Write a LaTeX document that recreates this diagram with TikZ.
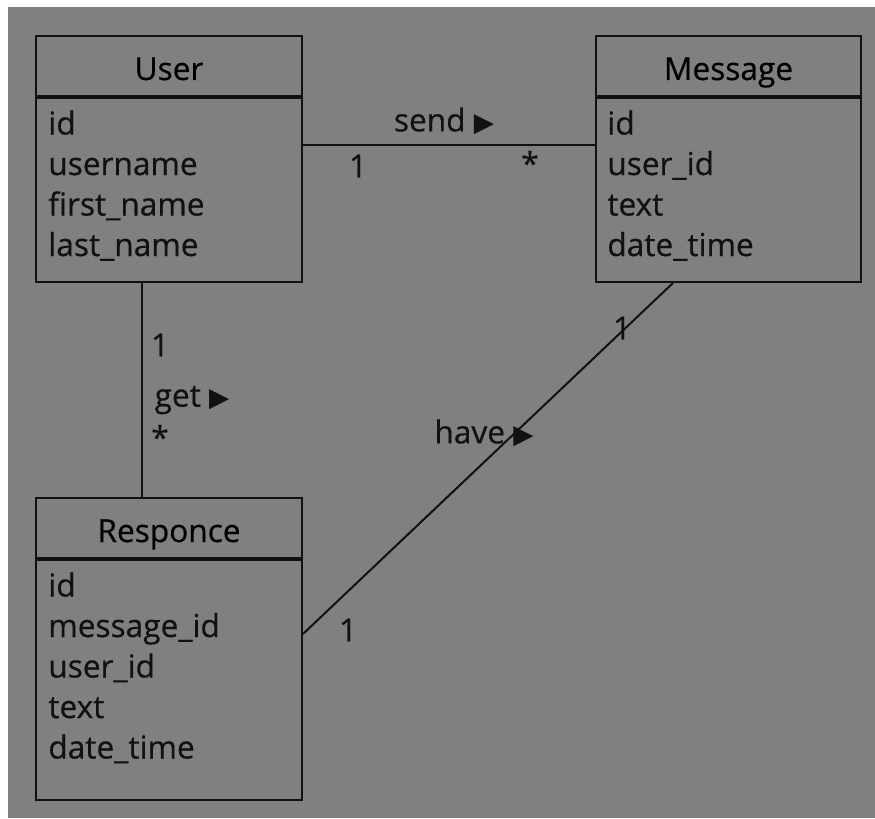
\documentclass[tikz,border=0pt]{standalone}
\usepackage{fontspec}
\setmainfont{Open Sans}[FakeBold=0.5]
\newfontfamily\symbolfont{DejaVu Sans}
\usetikzlibrary{positioning}

\definecolor{canvas}{HTML}{808080}
\definecolor{ink}{HTML}{111111}
\newcommand\rtri{{\symbolfont\fontsize{15}{15}\selectfont ▶}}

\tikzset{
  classhead/.style={draw=ink, line width=0.04cm, minimum width=5.32cm,
    minimum height=1.2cm, inner sep=0pt, text height=0.56cm, text depth=0pt},
  classbody/.style={draw=ink, line width=0.04cm, minimum width=5.32cm, inner sep=0pt},
  attr/.style={anchor=base west, inner sep=0pt, text=ink},
  lbl/.style={inner sep=0pt, text=ink},
  link/.style={draw=ink, line width=0.04cm}
}

\begin{document}
\begin{tikzpicture}[x=0.02cm, y=-0.02cm, font=\fontsize{18}{23}\selectfont]

   % background
   \fill [white] (0,0) rectangle (875,818);
   \fill [canvas] (8,7) rectangle (875,818);

   % User
   \node[classhead] (userhead) at (169,66) {User};
   \node[classbody, minimum height=3.68cm, below=0pt of userhead] (userbody) {};
   \foreach \t [count=\i] in {id,username,first\_name,last\_name}
      \node[attr] (useratt\i) at (48,{96+38.5+40.5*(\i-1)}) {\t};

   % Message
   \node[classhead] (msghead) at (728.5,66) {Message};
   \node[classbody, minimum height=3.68cm, below=0pt of msghead] (msgbody) {};
   \foreach \t [count=\i] in {id,user\_id,text,date\_time}
      \node[attr] (msgatt\i) at (607,{96+38.5+40.5*(\i-1)}) {\t};

   % Responce
   \node[classhead] (resphead) at (169,528) {Responce};
   \node[classbody, minimum height=4.8cm, below=0pt of resphead] (respbody) {};
   \foreach \t [count=\i] in {id,message\_id,user\_id,text,date\_time}
      \node[attr] (respatt\i) at (48,{558+38.5+40.5*(\i-1)}) {\t};

   % links
   \draw[link] ([yshift=0.9cm]userbody.east) -- ([yshift=0.9cm]msgbody.west);
   \draw[link] ([xshift=-0.54cm]userbody.south) -- ([xshift=-0.54cm]resphead.north);
   \draw[link] ([xshift=-1.11cm]msgbody.south) -- ([yshift=0.92cm]respbody.east);

   % link labels
   \node[lbl] (sendlbl) at (444,121) {send \rtri};
   \node[lbl] (sendone) at (358,166) {1};
   \node[lbl] (sendmany) at (530,163) {*};
   \node[lbl] (getone) at (160,345) {1};
   \node[lbl] (getlbl) at (192,400) {get \rtri};
   \node[lbl] (getmany) at (160,437) {*};
   \node[lbl] (haveone) at (622,328) {1};
   \node[lbl] (havelbl) at (484,433) {have \rtri};
   \node[lbl] (respone) at (348,630) {1};

\end{tikzpicture}
\end{document}
